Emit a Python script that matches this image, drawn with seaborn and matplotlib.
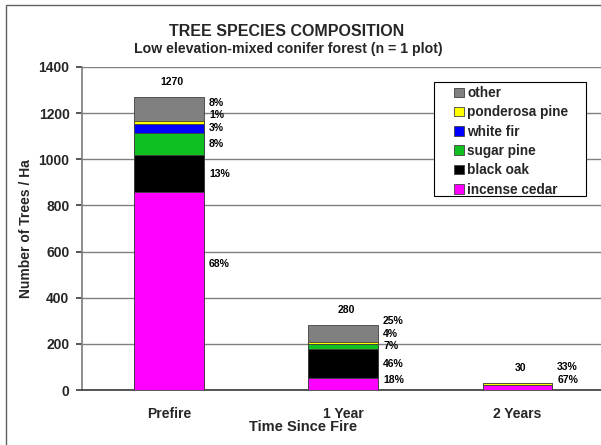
import numpy as np
import pandas as pd
import matplotlib
matplotlib.use("Agg")
import matplotlib.pyplot as plt
import matplotlib.patches as patches
import seaborn as sns

# --- data ---
periods = ["Prefire", "1 Year", "2 Years"]
species = ["incense cedar", "black oak", "sugar pine", "white fir", "ponderosa pine", "other"]
incense_cedar = [858, 50, 20]
black_oak = [159, 129, 0]
sugar_pine = [99, 20, 0]
white_fir = [38, 0, 0]
ponderosa_pine = [13, 11, 10]
other = [103, 70, 0]

colors = {
    "incense cedar": "#FF00FF",
    "black oak": "#000000",
    "sugar pine": "#10C020",
    "white fir": "#0000FF",
    "ponderosa pine": "#FFFF00",
    "other": "#808080",
}

FONT = ["Liberation Sans", "DejaVu Sans"]
BAR_W = 0.4
LABEL_GAP = 55      # min spacing between % labels (data units)
LABEL_FLOOR = 45    # lowest % label position
LABEL_NUDGE = {("Prefire", "incense cedar"): 118}

values = np.array([incense_cedar, black_oak, sugar_pine, white_fir, ponderosa_pine, other], dtype=float)
totals = values.sum(axis=0)
cum = np.cumsum(values, axis=0)

sns.set_theme(style="white")
plt.rcParams["font.family"] = FONT
plt.rcParams["font.weight"] = "bold"

fig = plt.figure(figsize=(6.01, 4.45), dpi=100)
ax = fig.add_axes([82 / 601, 1 - 390 / 445, 522.5 / 601, 323 / 445])

# stacked bars: draw cumulative heights from the top layer down
for k in range(len(species) - 1, -1, -1):
    df = pd.DataFrame({"Period": periods, "Trees": cum[k]})
    sns.barplot(data=df, x="Period", y="Trees", order=periods, color=colors[species[k]],
                width=BAR_W, saturation=1, edgecolor="#404040", linewidth=0.6,
                errorbar=None, ax=ax, zorder=3)

# percent labels beside the bars
for i, p in enumerate(periods):
    prev = -1e9
    bottom = 0.0
    for k, sp in enumerate(species):
        v = values[k, i]
        if v > 0:
            y = max(bottom + v / 2 + LABEL_NUDGE.get((p, sp), 0), LABEL_FLOOR, prev + LABEL_GAP)
            prev = y
            pct = int(np.floor(100 * v / totals[i] + 0.5))
            ax.annotate(f"{pct}%", xy=(i + BAR_W / 2, y), xytext=(5, 0), textcoords="offset pixels",
                        ha="left", va="center", fontsize=7.5, fontweight="bold", color="black")
        bottom += v
    ax.annotate(f"{int(totals[i])}", xy=(i, totals[i]), xytext=(3, 15), textcoords="offset pixels",
                ha="center", va="center", fontsize=7.5, fontweight="bold", color="black")

ax.set_xlim(-0.5, 2.5)
ax.set_ylim(0, 1400)
ax.set_yticks(range(0, 1401, 200))
ax.grid(True, axis="y", color="#808080", linewidth=1, zorder=0)
ax.set_axisbelow(True)
ax.spines["top"].set_visible(False)
ax.spines["right"].set_visible(False)
ax.spines["left"].set_color("#808080")
ax.spines["bottom"].set_color("#404040")
ax.tick_params(axis="y", length=4, color="#404040", pad=5, labelsize=10, left=True)
ax.tick_params(axis="x", length=0, pad=12, labelsize=10)
for lab in ax.get_xticklabels() + ax.get_yticklabels():
    lab.set_fontweight("bold")

ax.set_xlabel("Time Since Fire", fontsize=10.5, fontweight="bold")
ax.xaxis.set_label_coords((303 - 82) / 522.5, (390 - 427) / 323)
ax.xaxis.label.set_va("center")
ax.set_ylabel("Number of Trees / Ha", fontsize=10, fontweight="bold")
ax.yaxis.set_label_coords((26 - 82) / 522.5, 0.5)
ax.yaxis.label.set_va("center")

fig.text(287 / 601, 1 - 32 / 445, "TREE SPECIES COMPOSITION", ha="center", va="center",
         fontsize=11.5, fontweight="bold")
fig.text(288 / 601, 1 - 49 / 445, "Low elevation-mixed conifer forest (n = 1 plot)", ha="center",
         va="center", fontsize=10.2, fontweight="bold")

# legend without its own frame; the box is drawn separately to match the reference size
handles = [patches.Patch(facecolor=colors[s], edgecolor="#404040", linewidth=0.6, label=s)
           for s in species[::-1]]
leg = fig.legend(handles=handles, loc="upper left", bbox_to_anchor=(450 / 601, 1 - 82 / 445),
                 fontsize=9.8, frameon=False, handlelength=0.7, handleheight=0.7,
                 handletextpad=0.25, labelspacing=0.39, borderpad=0.3, borderaxespad=0)
for t in leg.get_texts():
    t.set_fontweight("bold")
fig.patches.append(patches.Rectangle((434 / 601, 1 - 196 / 445), 152 / 601, 114 / 445,
                                     transform=fig.transFigure, facecolor="white",
                                     edgecolor="black", linewidth=0.8, zorder=4))
leg.set_zorder(5)

# chart border
fig.patches.append(patches.Rectangle((6 / 601, -0.1), 1.2, 1 - 5 / 445 + 0.1, transform=fig.transFigure,
                                     fill=False, edgecolor="#606060", linewidth=1))

fig.savefig("out.png", dpi=100)
